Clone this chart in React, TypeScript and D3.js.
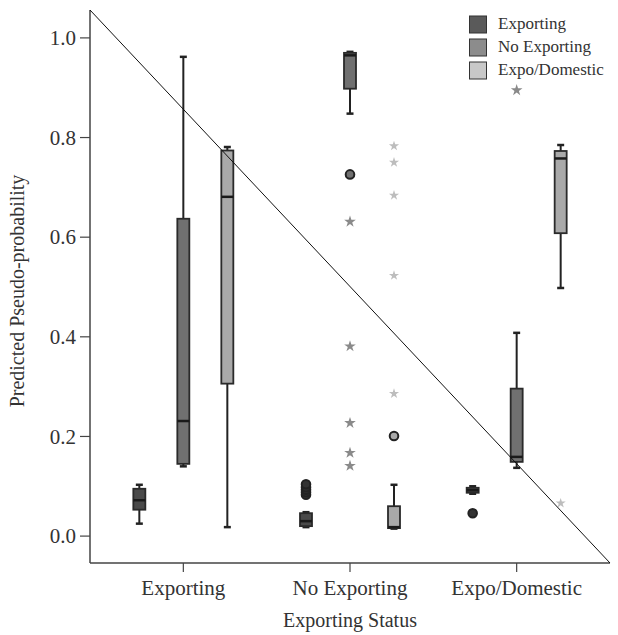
import { FC, useEffect, useRef } from 'react';
import * as d3 from 'd3';

// actual exporting status (x axis) and predicted category (clusters)
const statusGroups = ['Exporting', 'No Exporting', 'Expo/Domestic'];
const predictedSeries = ['Exporting', 'No Exporting', 'Expo/Domestic'];
const yTicks = [0.0, 0.2, 0.4, 0.6, 0.8, 1.0];

// five number summaries [min, q1, median, q3, max], one per predicted series
const exportingBoxes = [
    [0.025, 0.053, 0.072, 0.095, 0.103],
    [0.14, 0.145, 0.231, 0.637, 0.962],
    [0.018, 0.306, 0.681, 0.774, 0.781]
];
const noExportingBoxes = [
    [0.018, 0.02, 0.03, 0.046, 0.048],
    [0.848, 0.898, 0.965, 0.97, 0.972],
    [0.015, 0.016, 0.018, 0.06, 0.103]
];
const expoDomesticBoxes = [
    [0.085, 0.087, 0.092, 0.097, 0.1],
    [0.137, 0.149, 0.159, 0.296, 0.408],
    [0.498, 0.608, 0.758, 0.773, 0.785]
];

// outliers (circles) and extremes (stars), per predicted series
const exportingOutliers = [[], [], []];
const noExportingOutliers = [[0.083, 0.088, 0.093, 0.098, 0.104], [0.726], [0.201]];
const expoDomesticOutliers = [[0.046], [], []];

const exportingExtremes = [[], [], []];
const noExportingExtremes = [[], [0.631, 0.381, 0.227, 0.167, 0.141], [0.783, 0.75, 0.684, 0.523, 0.286]];
const expoDomesticExtremes = [[], [0.895], [0.066]];

const boxFill = ['#4a4a4a', '#707070', '#a9a9a9'];
const legendFill = ['#5a5a5a', '#8c8c8c', '#c8c8c8'];
const starFill = ['#555', '#8a8a8a', '#bdbdbd'];

const App: FC = () => {
    const svgRef = useRef<SVGSVGElement>(null);

    useEffect(() => {
        const width = 618;
        const height = 635;
        const left = 90, right = 610, top = 10, bottom = 563;

        const svg = d3.select(svgRef.current)
            .attr('width', width)
            .attr('height', height);
        svg.selectAll('*').remove();

        const font = '"Liberation Serif", "Times New Roman", serif';

        const x = d3.scaleBand().domain(statusGroups).range([left, right]).paddingOuter(0.06);
        const inner = d3.scaleBand().domain(predictedSeries).range([-66, 66]);
        const y = d3.scaleLinear().domain([-0.054, 1.056]).range([bottom, top]);

        const boxes = [exportingBoxes, noExportingBoxes, expoDomesticBoxes];
        const outliers = [exportingOutliers, noExportingOutliers, expoDomesticOutliers];
        const extremes = [exportingExtremes, noExportingExtremes, expoDomesticExtremes];

        // axes
        svg.append('line').attr('x1', left).attr('x2', left).attr('y1', top).attr('y2', bottom)
            .attr('stroke', '#444').attr('stroke-width', 1.5);
        svg.append('line').attr('x1', left).attr('x2', right).attr('y1', bottom).attr('y2', bottom)
            .attr('stroke', '#444').attr('stroke-width', 1.5);

        yTicks.forEach(t => {
            svg.append('line').attr('x1', left - 10).attr('x2', left).attr('y1', y(t)).attr('y2', y(t))
                .attr('stroke', '#444').attr('stroke-width', 1.2);
            svg.append('text').attr('x', left - 14).attr('y', y(t)).attr('dy', '0.34em')
                .attr('text-anchor', 'end').attr('font-family', font).attr('font-size', 21)
                .attr('fill', '#333').text(t.toFixed(1));
        });

        statusGroups.forEach(g => {
            const cx = (x(g) as number) + x.bandwidth() / 2;
            svg.append('line').attr('x1', cx).attr('x2', cx).attr('y1', bottom).attr('y2', bottom + 9)
                .attr('stroke', '#444').attr('stroke-width', 1.2);
            svg.append('text').attr('x', cx).attr('y', 595).attr('text-anchor', 'middle')
                .attr('font-family', font).attr('font-size', 21).attr('fill', '#333').text(g);
        });

        svg.append('text').attr('x', (x('No Exporting') as number) + x.bandwidth() / 2).attr('y', 627)
            .attr('text-anchor', 'middle').attr('font-family', font).attr('font-size', 20)
            .attr('fill', '#333').text('Exporting Status');

        svg.append('text').attr('transform', 'translate(24,291) rotate(-90)')
            .attr('text-anchor', 'middle').attr('font-family', font).attr('font-size', 20)
            .attr('fill', '#333').text('Predicted Pseudo-probability');

        // boxes
        const bw = 12;
        statusGroups.forEach((g, gi) => {
            const gx = (x(g) as number) + x.bandwidth() / 2;
            predictedSeries.forEach((s, si) => {
                const cx = gx + (inner(s) as number) + inner.bandwidth() / 2;
                const [mn, q1, med, q3, mx] = boxes[gi][si];
                const grp = svg.append('g');
                grp.append('line').attr('x1', cx).attr('x2', cx).attr('y1', y(mn)).attr('y2', y(mx))
                    .attr('stroke', '#222').attr('stroke-width', 2);
                [mn, mx].forEach(v => {
                    grp.append('line').attr('x1', cx - 3.5).attr('x2', cx + 3.5).attr('y1', y(v)).attr('y2', y(v))
                        .attr('stroke', '#222').attr('stroke-width', 2.5);
                });
                grp.append('rect').attr('x', cx - bw / 2).attr('y', y(q3))
                    .attr('width', bw).attr('height', Math.max(1, y(q1) - y(q3)))
                    .attr('fill', boxFill[si]).attr('stroke', '#2a2a2a').attr('stroke-width', 1.8);
                grp.append('line').attr('x1', cx - bw / 2).attr('x2', cx + bw / 2).attr('y1', y(med)).attr('y2', y(med))
                    .attr('stroke', '#1a1a1a').attr('stroke-width', 2.5);

                outliers[gi][si].forEach((v: number) => {
                    grp.append('circle').attr('cx', cx).attr('cy', y(v)).attr('r', 4.3)
                        .attr('fill', si === 0 ? '#333' : boxFill[si])
                        .attr('stroke', '#222').attr('stroke-width', 2);
                });

                const star = d3.symbol().type(d3.symbolStar).size(si === 2 ? 32 : 42);
                extremes[gi][si].forEach((v: number) => {
                    grp.append('path').attr('d', star() as string)
                        .attr('transform', `translate(${cx},${y(v)})`)
                        .attr('fill', starFill[si]);
                });
            });
        });

        // reference diagonal
        svg.append('line').attr('x1', left).attr('y1', top).attr('x2', right).attr('y2', bottom)
            .attr('stroke', '#111').attr('stroke-width', 1);

        // legend
        predictedSeries.forEach((s, i) => {
            const ly = 16 + i * 23;
            svg.append('rect').attr('x', 469.5).attr('y', ly).attr('width', 17).attr('height', 17)
                .attr('fill', legendFill[i]).attr('stroke', '#333').attr('stroke-width', 1);
            svg.append('text').attr('x', 498).attr('y', ly + 13).attr('font-family', font)
                .attr('font-size', 17).attr('fill', '#333').text(s);
        });
    }, []);

    return <svg ref={svgRef} style={{ position: 'absolute', left: 0, top: 0 }}></svg>;
};

export default App;
